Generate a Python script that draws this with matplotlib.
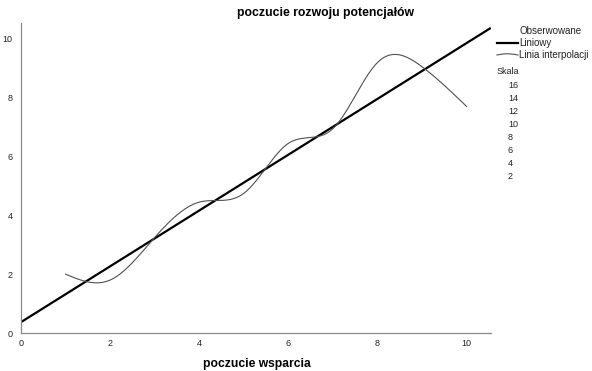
"""
SPSS-style scatter with linear fit and interpolation line.
"""

import numpy as np
import matplotlib.pyplot as plt

plt.rcParams['font.family'] = ['Liberation Sans', 'DejaVu Sans']

# knots of the interpolation line (mean of y for each x)
x_knots = [1, 2, 3, 4, 5, 6, 7, 8, 9, 10]
y_knots = [2.0, 1.8, 3.25, 4.45, 4.75, 6.45, 6.95, 9.2, 9.05, 7.7]

# linear fit: intercept and slope
intercept = 0.37
slope = 0.949

x_ticks = [0, 2, 4, 6, 8, 10]
y_ticks = [0, 2, 4, 6, 8, 10]
size_labels = ['16', '14', '12', '10', '8', '6', '4', '2']


def natural_spline(xk, yk, n=300):
    """Natural cubic spline through the knots."""
    xk = np.asarray(xk, float)
    yk = np.asarray(yk, float)
    k = len(xk)
    h = np.diff(xk)
    a = np.zeros((k, k))
    b = np.zeros(k)
    a[0, 0] = a[-1, -1] = 1
    for i in range(1, k - 1):
        a[i, i - 1] = h[i - 1]
        a[i, i] = 2 * (h[i - 1] + h[i])
        a[i, i + 1] = h[i]
        b[i] = 6 * ((yk[i + 1] - yk[i]) / h[i] - (yk[i] - yk[i - 1]) / h[i - 1])
    m = np.linalg.solve(a, b)
    xs = np.linspace(xk[0], xk[-1], n)
    idx = np.clip(np.searchsorted(xk, xs) - 1, 0, k - 2)
    x0, x1 = xk[idx], xk[idx + 1]
    hh = x1 - x0
    t0, t1 = x1 - xs, xs - x0
    ys = (m[idx] * t0 ** 3 + m[idx + 1] * t1 ** 3) / (6 * hh) \
        + (yk[idx] / hh - m[idx] * hh / 6) * t0 \
        + (yk[idx + 1] / hh - m[idx + 1] * hh / 6) * t1
    return xs, ys


fig = plt.figure(figsize=(5.92, 3.71), dpi=100)
ax = fig.add_axes([0.0355, 0.1024, 0.7935, 0.8356])

xmax = 10.54
xl = np.array([0, xmax])
ax.plot(xl, intercept + slope * xl, color='black', lw=1.6, solid_capstyle='butt')

xs, ys = natural_spline(x_knots, y_knots)
ax.plot(xs, ys, color='#505050', lw=0.8)

ax.set_xlim(0, xmax)
ax.set_ylim(0, 10.54)
ax.set_xticks(x_ticks)
ax.set_yticks(y_ticks)
ax.tick_params(length=0, labelsize=6.5, colors='#222222', pad=4)
ax.tick_params(axis='y', pad=6)
for s in ['top', 'right']:
    ax.spines[s].set_visible(False)
for s in ['left', 'bottom']:
    ax.spines[s].set_color('#888888')
    ax.spines[s].set_linewidth(0.9)

fig.text(0.55, 0.965, 'poczucie rozwoju potencjałów', ha='center', va='center',
         fontsize=8.8, fontweight='bold')
fig.text(0.434, 0.018, 'poczucie wsparcia', ha='center', va='center',
         fontsize=8.7, fontweight='bold')

# legend
fs = 7
fig.text(520 / 592, 1 - 31 / 371, 'Obserwowane', fontsize=fs, va='center', color='#222222')
fig.add_artist(plt.Line2D([497 / 592, 518 / 592], [1 - 43 / 371] * 2, color='black', lw=1.6))
fig.text(519 / 592, 1 - 43 / 371, 'Liniowy', fontsize=fs, va='center', color='#222222')
lx = np.linspace(497, 518, 20)
ly = 55 + 1.2 * np.sin((lx - 497) / 21 * np.pi * 1.0 + np.pi)
fig.add_artist(plt.Line2D(lx / 592, 1 - ly / 371, color='#505050', lw=0.8))
fig.text(519 / 592, 1 - 55 / 371, 'Linia interpolacji', fontsize=fs, va='center', color='#222222')
fig.text(497 / 592, 1 - 72 / 371, 'Skala', fontsize=fs - 0.5, va='center', color='#222222')
for i, lab in enumerate(size_labels):
    fig.text(508 / 592, 1 - (86 + i * 12.9) / 371, lab, fontsize=fs - 0.5,
             va='center', color='#222222')

fig.savefig('out.png', dpi=100)
